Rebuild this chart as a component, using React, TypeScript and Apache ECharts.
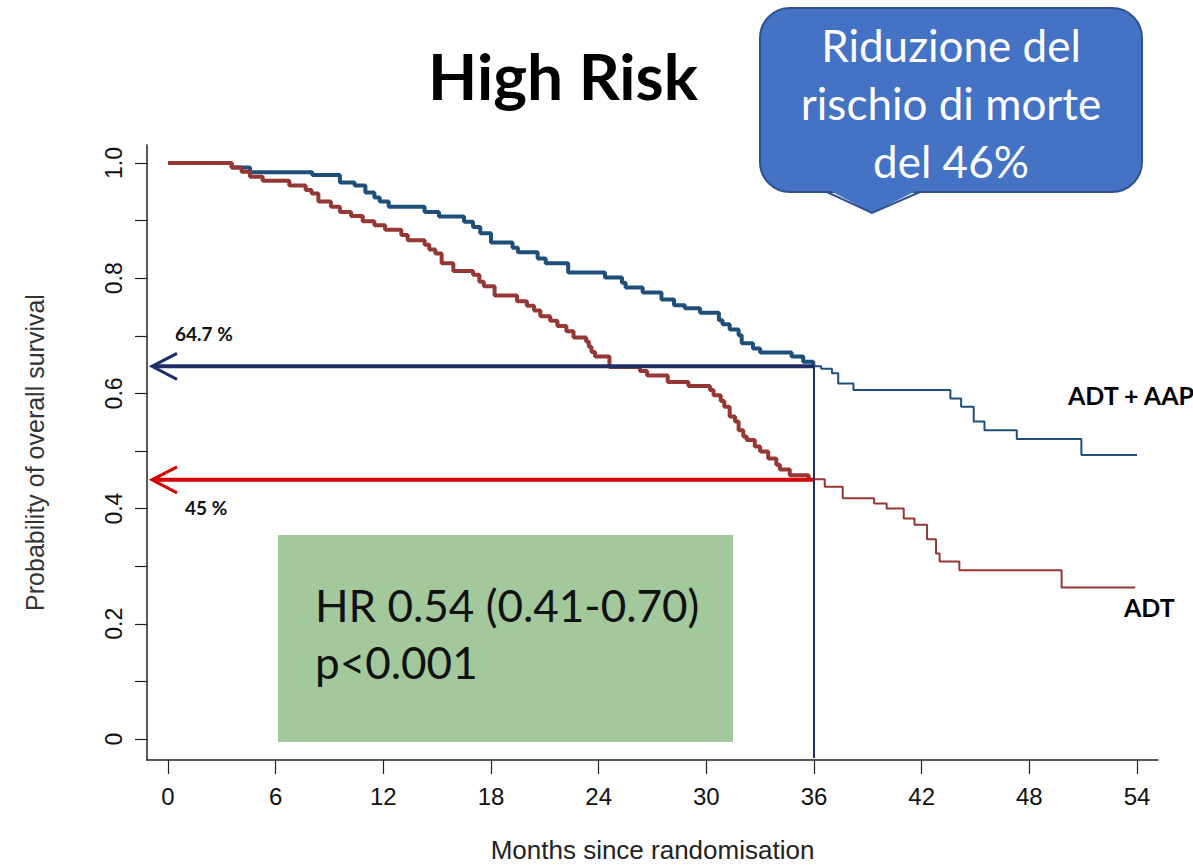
import React, { useEffect, useRef } from "react";
import * as echarts from "echarts";

// Axis ticks
const MONTH_TICKS = [0, 6, 12, 18, 24, 30, 36, 42, 48, 54];
const SURV_TICKS = [0, 0.1, 0.2, 0.3, 0.4, 0.5, 0.6, 0.7, 0.8, 0.9, 1.0];
const SURV_LABELS = [0, 0.2, 0.4, 0.6, 0.8, 1.0];

// Kaplan-Meier steps, ADT + AAP arm (month of event, survival from then on)
const AAP_TIMES = [
  0, 3.55, 4.57, 8.04, 9.58, 10.4, 11.0, 11.5, 11.8, 12.3, 14.3, 15.1, 16.5, 17.0,
  17.4, 18.0, 19.2, 19.5, 20.6, 21.05, 22.3, 24.35, 25.3, 25.5, 26.45, 27.5, 28.2,
  28.8, 29.65, 30.7, 30.9, 31.3, 31.8, 31.97, 32.6, 33.0, 34.75, 35.4, 35.96, 36.4,
  37.0, 37.35, 38.2, 43.6, 44.2, 44.9, 45.5, 47.3, 50.9, 54.0,
];
const AAP_SURV = [
  1.0, 0.992, 0.984, 0.979, 0.966, 0.961, 0.949, 0.94, 0.933, 0.924, 0.915, 0.907, 0.898, 0.889,
  0.878, 0.862, 0.853, 0.845, 0.834, 0.826, 0.81, 0.801, 0.792, 0.784, 0.775, 0.763, 0.753,
  0.748, 0.74, 0.727, 0.72, 0.711, 0.701, 0.687, 0.678, 0.671, 0.664, 0.655, 0.647, 0.643,
  0.635, 0.617, 0.606, 0.591, 0.577, 0.551, 0.536, 0.521, 0.493, 0.493,
];

// Kaplan-Meier steps, ADT arm
const ADT_TIMES = [
  0, 3.55, 4.1, 4.57, 5.28, 6.76, 7.67, 8.0, 8.38, 9.08, 9.58, 10.2, 10.85, 11.5, 12.1,
  13.0, 13.36, 14.3, 14.56, 14.9, 15.25, 15.9, 17.0, 17.35, 17.6, 18.2, 19.45, 20.0,
  20.4, 20.75, 21.3, 21.7, 22.2, 22.6, 23.3, 23.45, 23.6, 23.8, 24.6, 26.3, 26.7, 27.85,
  29.0, 30.2, 30.4, 30.8, 31.0, 31.3, 31.6, 31.8, 32.06, 32.25, 32.7, 33.0, 33.45, 33.9,
  34.1, 34.65, 35.7, 36.6, 37.6, 39.35, 40.05, 41.0, 41.6, 42.3, 42.8, 43.0, 44.1, 49.8, 53.9,
];
const ADT_SURV = [
  1.0, 0.992, 0.985, 0.976, 0.969, 0.961, 0.953, 0.947, 0.933, 0.924, 0.915, 0.908, 0.899, 0.892, 0.884,
  0.875, 0.866, 0.858, 0.85, 0.843, 0.826, 0.8125, 0.806, 0.794, 0.786, 0.77, 0.76, 0.752,
  0.744, 0.734, 0.726, 0.717, 0.708, 0.697, 0.69, 0.681, 0.672, 0.664, 0.646, 0.639, 0.631, 0.62,
  0.613, 0.606, 0.597, 0.587, 0.577, 0.56, 0.551, 0.536, 0.525, 0.519, 0.508, 0.499, 0.487, 0.476,
  0.468, 0.458, 0.451, 0.438, 0.418, 0.409, 0.4, 0.383, 0.372, 0.347, 0.322, 0.308, 0.293, 0.263, 0.263,
];

// Landmark read-out at 36 months
const LANDMARK_MONTH = 36;
const AAP_AT_LANDMARK = 0.647;
const ADT_AT_LANDMARK = 0.45;

const BLUE = "#1f4e79";
const RED = "#953735";
const ARROW_BLUE = "#1f2f66";
const ARROW_RED = "#d80000";
const CAL = "Lato, 'Open Sans', sans-serif";
const ARIAL = "'Liberation Sans', Arial, sans-serif";

const zip = (t: number[], s: number[]) => t.map((x, i) => [x, s[i]]);

export default function App() {
  const ref = useRef<HTMLDivElement>(null);

  useEffect(() => {
    if (!ref.current) return;
    const chart = echarts.init(ref.current, null, { renderer: "svg" });

    const aap = zip(AAP_TIMES, AAP_SURV);
    const adt = zip(ADT_TIMES, ADT_SURV);
    const early = (d: number[][]) => d.filter((p) => p[0] <= LANDMARK_MONTH);

    const stepSeries = (data: number[][], color: string, width: number) => ({
      type: "line",
      step: "end",
      data,
      symbol: "none",
      silent: true,
      lineStyle: { color, width },
      z: 3,
    });

    chart.setOption({
      animation: false,
      backgroundColor: "#ffffff",
      grid: {
        left: 147,
        right: 35,
        top: 145,
        bottom: 105,
        containLabel: false,
        outerBoundsMode: "none",
      },
      xAxis: {
        type: "value",
        min: -1.17,
        max: 55.17,
        name: "Months since randomisation",
        nameLocation: "middle",
        nameGap: 77,
        nameTextStyle: { fontFamily: ARIAL, fontSize: 26, color: "#222" },
        axisLine: { show: true, onZero: false, lineStyle: { color: "#222", width: 1.5 } },
        axisTick: { show: true, length: 14, customValues: MONTH_TICKS, lineStyle: { color: "#222", width: 1.2 } },
        axisLabel: {
          customValues: MONTH_TICKS,
          fontFamily: ARIAL,
          fontSize: 24,
          color: "#111",
          margin: 24,
        },
        splitLine: { show: false },
      },
      yAxis: {
        type: "value",
        min: -0.03646,
        max: 1.03125,
        name: "Probability of overall survival",
        nameLocation: "middle",
        nameGap: 100,
        nameRotate: 90,
        nameTextStyle: { fontFamily: ARIAL, fontSize: 25, color: "#333" },
        axisLine: { show: true, onZero: false, lineStyle: { color: "#222", width: 1.5 } },
        axisTick: { show: true, length: 12, customValues: SURV_TICKS, lineStyle: { color: "#222", width: 1.2 } },
        axisLabel: {
          customValues: SURV_LABELS,
          rotate: 90,
          fontFamily: ARIAL,
          fontSize: 23,
          color: "#111",
          margin: 22,
          formatter: (v: number) => (v === 0 ? "0" : v.toFixed(1)),
        },
        splitLine: { show: false },
      },
      series: [
        stepSeries(aap, BLUE, 2),
        stepSeries(early(aap), BLUE, 4),
        stepSeries(adt, RED, 2),
        stepSeries(early(adt), RED, 4),
      ],
    });

    // Landmark arrows, computed from the axes
    const pBlue = chart.convertToPixel({ gridIndex: 0 }, [LANDMARK_MONTH, AAP_AT_LANDMARK]) as number[];
    const pRed = chart.convertToPixel({ gridIndex: 0 }, [LANDMARK_MONTH, ADT_AT_LANDMARK]) as number[];
    const pBase = chart.convertToPixel({ gridIndex: 0 }, [LANDMARK_MONTH, -0.033]) as number[];
    const tipX = 152;
    const head = 25;
    const spread = 13;

    const arrow = (y: number, x2: number, color: string) => [
      { type: "line", z: 10, shape: { x1: tipX + 1, y1: y, x2, y2: y }, style: { stroke: color, lineWidth: 4 } },
      {
        type: "polyline",
        z: 10,
        shape: { points: [[tipX + head, y - spread], [tipX, y], [tipX + head, y + spread]] },
        style: { stroke: color, lineWidth: 3, fill: null },
      },
    ];

    chart.setOption({
      graphic: [
        // title
        {
          type: "text",
          x: 563,
          y: 75,
          style: {
            text: "High Risk",
            font: `bold 64px ${CAL}`,
            fill: "#000",
            align: "center",
            verticalAlign: "middle",
          },
        },
        ...arrow(pBlue[1], pBlue[0], ARROW_BLUE),
        ...arrow(pRed[1], pRed[0], ARROW_RED),
        {
          type: "line",
          z: 10,
          shape: { x1: pBlue[0], y1: pBlue[1], x2: pBase[0], y2: pBase[1] },
          style: { stroke: ARROW_BLUE, lineWidth: 2 },
        },
        {
          type: "text",
          x: 175,
          y: 333,
          z: 10,
          style: { text: "64.7 %", font: `bold 19px ${CAL}`, fill: "#111", verticalAlign: "middle" },
        },
        {
          type: "text",
          x: 185,
          y: 507,
          z: 10,
          style: { text: "45 %", font: `bold 19px ${CAL}`, fill: "#111", verticalAlign: "middle" },
        },
        // arm labels
        {
          type: "text",
          x: 1068,
          y: 395,
          z: 10,
          style: { text: "ADT + AAP", font: `bold 25px ${CAL}`, fill: "#000", verticalAlign: "middle" },
        },
        {
          type: "text",
          x: 1124,
          y: 607,
          z: 10,
          style: { text: "ADT", font: `bold 25px ${CAL}`, fill: "#000", verticalAlign: "middle" },
        },
        // hazard ratio box
        {
          type: "rect",
          z: 1,
          shape: { x: 278, y: 535, width: 455, height: 207 },
          style: { fill: "#a3c89b" },
        },
        {
          type: "text",
          x: 315,
          y: 605,
          z: 2,
          style: { text: "HR 0.54 (0.41-0.70)", font: `44px ${CAL}`, fill: "#111", verticalAlign: "middle" },
        },
        {
          type: "text",
          x: 315,
          y: 662,
          z: 2,
          style: { text: "p<0.001", font: `44px ${CAL}`, fill: "#111", verticalAlign: "middle" },
        },
        // callout
        {
          type: "rect",
          z: 20,
          shape: { x: 760, y: 8, width: 382, height: 184, r: 30 },
          style: { fill: "#4472c4", stroke: "#2f528f", lineWidth: 2 },
        },
        {
          type: "polygon",
          z: 21,
          shape: { points: [[827, 189], [920, 189], [872, 213]] },
          style: { fill: "#4472c4" },
        },
        {
          type: "polyline",
          z: 22,
          shape: { points: [[827, 192], [872, 213], [920, 192]] },
          style: { stroke: "#2f528f", lineWidth: 2, fill: null },
        },
        ...["Riduzione del", "rischio di morte", "del 46%"].map((t, i) => ({
          type: "text",
          x: 951,
          y: 45 + i * 58,
          z: 23,
          style: { text: t, font: `44px ${CAL}`, fill: "#fff", align: "center", verticalAlign: "middle" },
        })),
      ],
    });

    return () => chart.dispose();
  }, []);

  return (
    <div
      ref={ref}
      style={{ position: "fixed", left: 0, top: 0, width: 1193, height: 865, background: "#fff" }}
    />
  );
}
